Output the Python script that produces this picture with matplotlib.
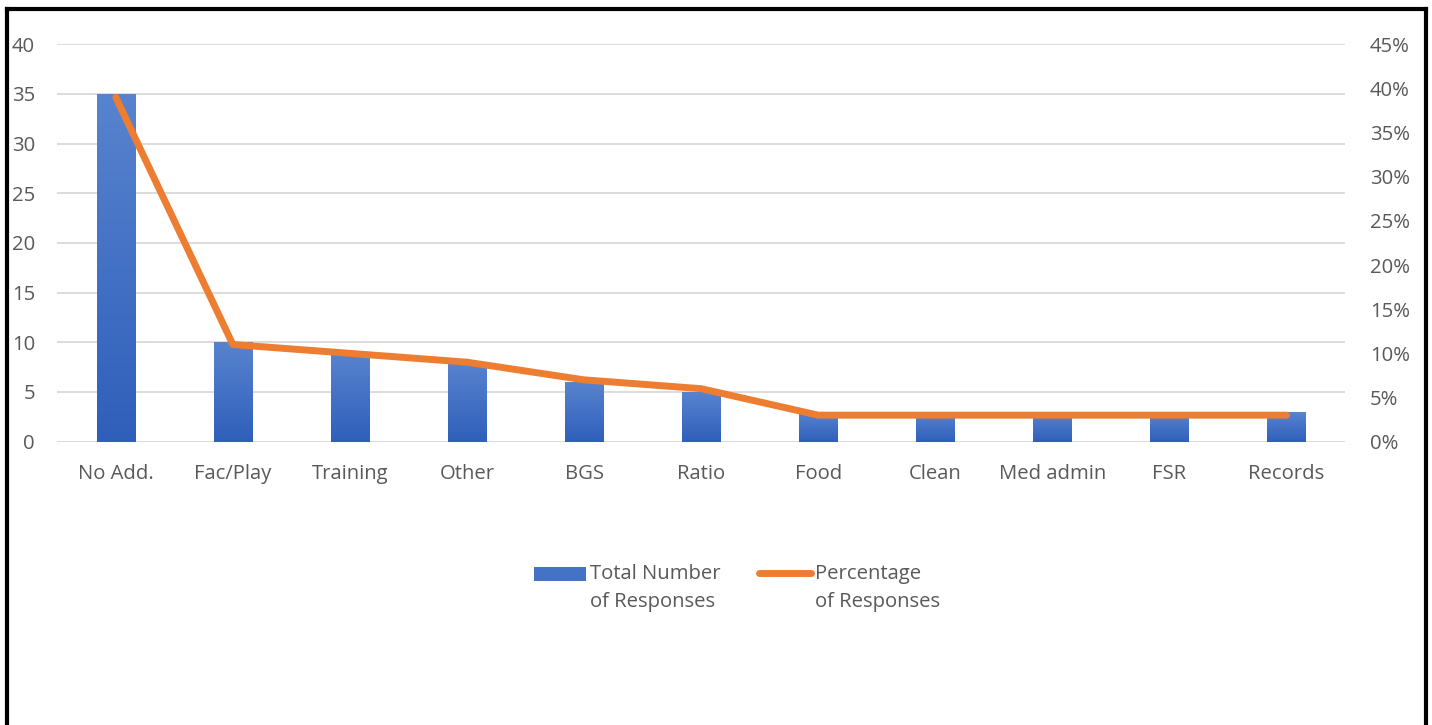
import numpy as np
import matplotlib
matplotlib.use("Agg")
import matplotlib.pyplot as plt
from matplotlib.colors import LinearSegmentedColormap
from matplotlib.lines import Line2D
from matplotlib.patches import Rectangle
from matplotlib.ticker import FuncFormatter

# categories and series
categories = ["No Add.", "Fac/Play", "Training", "Other", "BGS", "Ratio",
              "Food", "Clean", "Med admin", "FSR", "Records"]
responses = [35, 10, 9, 8, 6, 5, 3, 3, 3, 3, 3]
percentages = [39, 11, 10, 9, 7, 6, 3, 3, 3, 3, 3]

count_ticks = [0, 5, 10, 15, 20, 25, 30, 35, 40]
pct_ticks = [0, 5, 10, 15, 20, 25, 30, 35, 40, 45]
legend_labels = ["Total Number\nof Responses", "Percentage\nof Responses"]

plt.rcParams["font.family"] = ["Open Sans", "DejaVu Sans"]
text_color = "#595959"
grid_color = "#D9D9D9"
bar_color = "#4472C4"
line_color = "#ED7D31"
fs = 14.6

W, H = 1432, 725
fig = plt.figure(figsize=(W / 100, H / 100), dpi=100)


def px(x, y):
    # pixel position (from top-left) to figure fraction
    return x / W, 1 - y / H


ax = fig.add_axes([0.0400, 0.3908, 0.8993, 0.5481])
x = np.arange(len(categories))

bars = ax.bar(x, responses, width=0.327, color=bar_color, zorder=2)

# vertical gradient inside each bar, lighter at the top
grad = LinearSegmentedColormap.from_list("bar", ["#2F5FBA", "#5883CF"])
ramp = np.linspace(0, 1, 256).reshape(-1, 1)
for b in bars:
    x0, w, h = b.get_x(), b.get_width(), b.get_height()
    im = ax.imshow(ramp, cmap=grad, origin="lower", aspect="auto",
                   extent=(x0, x0 + w, 0, h), zorder=2.1)
    im.set_clip_path(b)

ax.set_xlim(-0.5, len(categories) - 0.5)
ax.set_ylim(0, 40)
ax.set_yticks(count_ticks)
ax.set_xticks(x)
ax.set_xticklabels(categories)
ax.grid(axis="y", color=grid_color, linewidth=1.3, zorder=0)
ax.set_axisbelow(True)
for s in ax.spines.values():
    s.set_visible(False)
ax.tick_params(axis="both", length=0, labelsize=fs, colors=text_color)
ax.tick_params(axis="y", pad=16)
ax.tick_params(axis="x", pad=16)

ax2 = ax.twinx()
ax2.plot(x, percentages, color=line_color, linewidth=5,
         solid_capstyle="round", solid_joinstyle="round", zorder=3)
ax2.set_ylim(0, 45)
ax2.set_yticks(pct_ticks)
ax2.yaxis.set_major_formatter(FuncFormatter(lambda v, _: f"{v:.0f}%"))
for s in ax2.spines.values():
    s.set_visible(False)
ax2.tick_params(axis="y", length=0, labelsize=fs, colors=text_color, pad=18)

# legend below the plot area, keys level with the first text line
x0, y0 = px(534, 581)
x1, y1 = px(586, 567)
fig.add_artist(Rectangle((x0, y0), x1 - x0, y1 - y0, transform=fig.transFigure,
                         facecolor=bar_color, edgecolor="none"))
fig.add_artist(Line2D([px(759, 0)[0], px(811, 0)[0]], [px(0, 573)[1]] * 2,
                      transform=fig.transFigure, color=line_color,
                      linewidth=5, solid_capstyle="round"))
for lx, lab in zip([590, 815], legend_labels):
    fig.text(*px(lx, 564), lab, ha="left", va="top", fontsize=fs,
             color=text_color, linespacing=1.55)

# outer frame (open at the bottom)
frame_kw = dict(color="black", linewidth=3, solid_capstyle="projecting")
fig.add_artist(Line2D([6.7 / W, 6.7 / W], [-0.05, 1 - 9 / H],
                      transform=fig.transFigure, **frame_kw))
fig.add_artist(Line2D([6.7 / W, 1426 / W], [1 - 9 / H, 1 - 9 / H],
                      transform=fig.transFigure, **frame_kw))
fig.add_artist(Line2D([1426 / W, 1426 / W], [-0.05, 1 - 9 / H],
                      transform=fig.transFigure, **frame_kw))

fig.savefig("out.png", dpi=100, facecolor="white")
